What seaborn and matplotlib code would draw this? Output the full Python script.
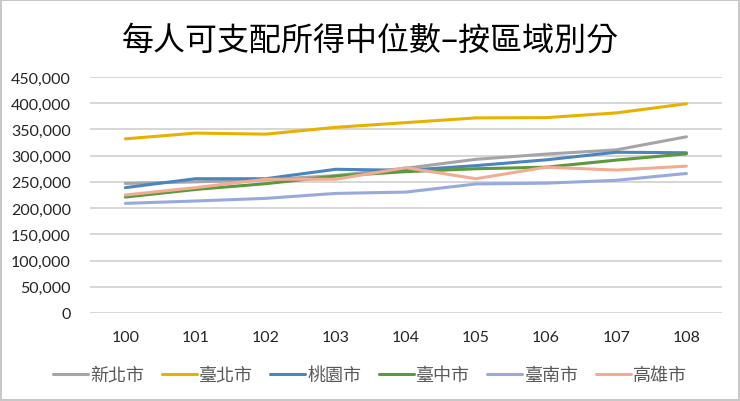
import matplotlib
matplotlib.use("Agg")
import matplotlib.pyplot as plt
import pandas as pd
import seaborn as sns

# data
years = ["100", "101", "102", "103", "104", "105", "106", "107", "108"]
new_taipei = [247000, 250000, 254000, 262000, 276000, 293000, 303000, 311000, 336000]
taipei = [332000, 343000, 341000, 354000, 363000, 372000, 372500, 381500, 399000]
taoyuan = [239000, 256000, 256000, 274000, 272000, 281000, 292000, 306500, 305500]
taichung = [221000, 235500, 246500, 261000, 269500, 275000, 278000, 291500, 303500]
tainan = [209000, 213500, 218500, 228000, 230500, 246000, 247500, 253000, 266000]
kaohsiung = [225000, 239000, 255000, 255000, 277000, 256000, 278000, 272500, 280000]

cities = ["新北市", "臺北市", "桃園市", "臺中市", "臺南市", "高雄市"]
colors = ["#A5A5A5", "#E8B100", "#4A85BE", "#5A9A3A", "#97AADB", "#F2AC94"]
series = [new_taipei, taipei, taoyuan, taichung, tainan, kaohsiung]

rows = []
for city, vals in zip(cities, series):
    for yr, v in zip(years, vals):
        rows.append({"year": yr, "city": city, "value": v})
df = pd.DataFrame(rows)

sns.set_style("white")
plt.rcParams["font.family"] = ["Noto Sans CJK TC", "DejaVu Sans"]

fig = plt.figure(figsize=(7.4, 4.02), dpi=100)
fig.patch.set_edgecolor("#C8C8C8")
fig.patch.set_linewidth(1.5)
ax = fig.add_axes([0.122, 0.219, 0.853, 0.587])

sns.lineplot(data=df, x="year", y="value", hue="city", hue_order=cities,
             palette=dict(zip(cities, colors)), linewidth=2.2, ax=ax,
             sort=False, legend=True)

ax.set_xlim(-0.5, 8.5)
ax.set_ylim(0, 450000)
ax.set_yticks(range(0, 450001, 50000))
ax.set_yticklabels([f"{v:,}" for v in range(0, 450001, 50000)],
                   family=["Lato", "DejaVu Sans"], fontsize=11.5)
ax.set_xticks(range(len(years)))
ax.set_xticklabels(years, family=["Lato", "DejaVu Sans"], fontsize=11.5)
ax.tick_params(axis="both", length=0, pad=12)
ax.tick_params(axis="y", pad=14)
ax.grid(axis="y", color="#D0D0D0", linewidth=1.2)
ax.set_axisbelow(True)
for s in ax.spines.values():
    s.set_visible(False)
ax.set_xlabel("")
ax.set_ylabel("")

fig.text(0.5, 0.9, "每人可支配所得中位數–按區域別分", ha="center", va="center",
         fontsize=23, color="black")

handles, labels = ax.get_legend_handles_labels()
ax.legend(handles, labels, loc="center", bbox_to_anchor=(0.5, 0.065),
          bbox_transform=fig.transFigure, ncol=6, frameon=False,
          fontsize=13, handlelength=1.95, handletextpad=0.12, columnspacing=0.95,
          labelcolor="#595959")

fig.savefig("out.png", dpi=100)
